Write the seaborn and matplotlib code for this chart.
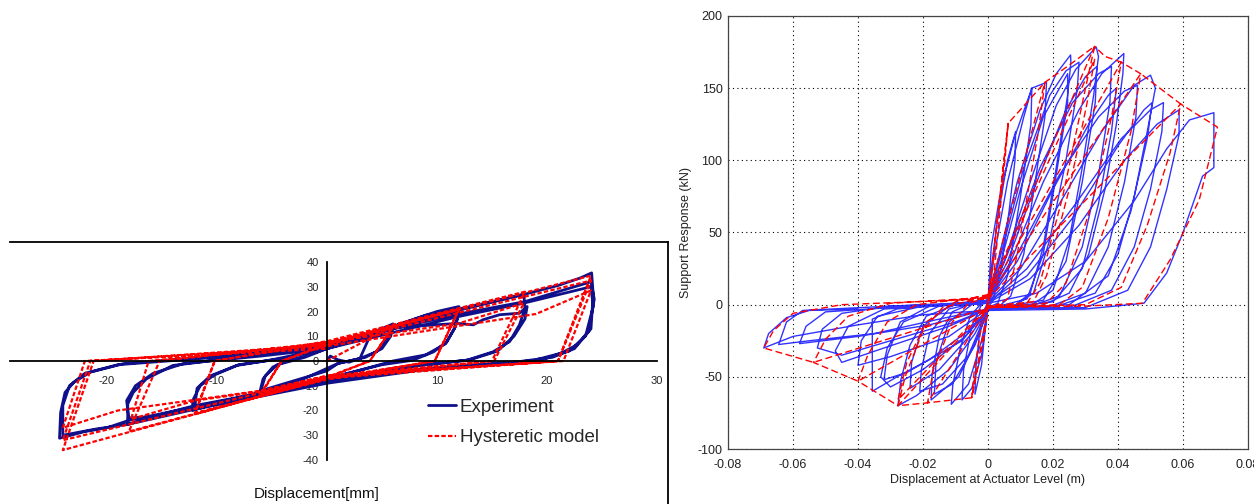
import numpy as np
import pandas as pd
import seaborn as sns
import matplotlib.pyplot as plt

# ---- left chart: force [kN] vs displacement [mm] (vertices)
left_exp = [
    (0, 0), (0.3, 2), (1, 0.5), (2, -0.5), (3, 1), (4, 11), (6, 15), (5.9, 12), (5.4, 8.4), (4.5, 3.7),
    (3, 1), (1, -1), (0, -3), (-2, -7), (-4, -10), (-6.1, -12.7), (-5.8, -7.2), (-4.9, -2.4), (-3.7, 0),
    (-2, 2), (0, 5), (3, 10), (6, 14.5), (5.8, 10), (5, 5), (3.5, 1.5), (1, -1), (0, -4), (-3, -8),
    (-6, -12), (-5.6, -6), (-4.5, -1.5), (-2, 1.5), (0, 5),
    (4, 10.5), (8, 17), (10, 20), (12, 22), (11.9, 18), (11.6, 13.2), (10.9, 7.8), (9.7, 3.7), (7.8, 0.3),
    (5, -1.5), (0, -7), (-6, -12.5), (-10, -17), (-12.2, -20), (-12.2, -16), (-11.5, -9.9), (-10.3, -5.8),
    (-8.2, -1.8), (-5, 0.5), (0, 5), (6, 13), (12, 20), (11.7, 14), (10.8, 7), (9, 2.5), (6, 0),
    (0, -7.5), (-6, -13), (-12, -18.5), (-11.8, -11), (-10.6, -6), (-8, -1.5), (-4, 1), (0, 5.5),
    (6, 14), (9, 18.5), (12, 21), (15, 24), (17.9, 27), (18, 21.3), (17.5, 14.6), (16.6, 7.8), (15.1, 3.7),
    (12.7, 0.3), (8, -2), (0, -8), (-6, -13), (-12, -18), (-15, -21.5), (-18.1, -25.6), (-18.1, -17.4),
    (-17.6, -12.7), (-16.4, -7.2), (-14, -1.8), (-8, 1.5), (0, 5.5),
    (6, 13.5), (11.9, 15.2), (13.3, 14.6), (14.2, 16.7), (15.7, 18.7), (17.5, 19.3), (18.2, 22), (18, 17),
    (17, 10), (15.5, 4), (13, 0.5), (6, -3), (0, -8.5), (-12, -19), (-16, -22.5), (-18, -23), (-18.2, -16),
    (-17.4, -10), (-15.8, -5), (-13, -1), (-6, 2), (0, 5),
    (6, 14), (12, 20.5), (18, 27), (21, 30.5), (23, 33.5), (24.06, 35.6), (24.2, 27), (24, 13), (22.7, 6.4),
    (21.2, 3), (19.4, 0.3), (15, -1), (8, -3.5), (0, -8.5), (-6, -13.5), (-12, -18.5), (-18, -24),
    (-20, -27), (-22, -28.5), (-24.3, -31.2), (-24.2, -20.8), (-23.8, -12.7), (-23, -8.6), (-21.5, -4.5),
    (-18.5, -1.1), (-10, 2), (0, 6),
    (6, 13), (12, 19), (18, 24), (21, 28), (24, 32), (24.3, 25), (23.8, 12), (22.5, 5), (20.5, 1.5),
    (17, -0.5), (8, -4), (0, -9), (-12, -19.5), (-18, -25.5), (-21, -27.5), (-24, -30), (-24, -18),
    (-23.4, -10), (-22, -5), (-19, -1.5), (-10, 1.5), (0, 5),
    (12, 18), (18, 23.5), (24, 30), (24.2, 22), (23.5, 10), (22, 4), (19, 0.5),
]

left_model = [
    (0, 0), (6, 14), (3.9, 0), (0, -6.5), (-6, -13.5), (-4.1, 0), (0, 6.5), (6, 13.8), (3.9, 0),
    (0, -6.8), (-6, -13), (-4.1, 0), (0, 7),
    (12, 21), (9.8, 0), (0, -7), (-12, -21.5), (-10.2, 0), (0, 7.5), (12, 20.8), (9.8, 0), (0, -7.5),
    (-12, -21), (-10.2, 0), (0, 8),
    (18, 28), (15, 0), (0, -7), (-18, -28.5), (-15.2, 0), (0, 7.5), (12, 15.2), (17.9, 23.4), (15.2, 0),
    (0, -6), (-6, -12.3), (-12, -16), (-17.8, -23.5), (-16.2, 0), (0, 7),
    (24, 34.5), (21, 0), (0, -7), (-24, -36), (-21.2, 0), (0, 6.5), (24, 32.5), (21, 0), (0, -6.5),
    (-24, -32), (-21.5, 0), (0, 6), (19, 19), (24, 28.5), (21.5, 0), (0, -6), (-6, -12), (-19, -20),
    (-24, -27), (-22, 0), (0, 5),
]

left_xticks = [-20, -10, 0, 10, 20, 30]
left_xlabels = ['-20', '-10', '0', '10', '20', '30']
left_yticks = [-40, -30, -20, -10, 0, 10, 20, 30, 40]
left_ylabels = ['-40', '-30', '-20', '-10', '0', '10', '20', '30', '40']

# ---- right chart: support response [kN] vs displacement at actuator level [m]
right_exp = [
    (0, 0), (0.001, 25), (0.003, 60), (0.006, 100), (0.0085, 120), (0.0083, 100), (0.0065, 65), (0.004, 25),
    (0.0015, 3), (0, -2), (-0.001, -20), (-0.002, -42), (-0.004, -62), (-0.0038, -45), (-0.0025, -18),
    (-0.001, -3), (0, 2),
    (0.001, 40), (0.004, 80), (0.008, 115), (0.0135, 150), (0.0132, 125), (0.010, 75), (0.006, 20),
    (0.003, 1), (0, -2), (-0.002, -35), (-0.005, -58), (-0.008, -66), (-0.0075, -45), (-0.005, -15),
    (-0.002, 0), (0, 3),
    (0.002, 35), (0.006, 85), (0.011, 130), (0.0135, 150), (0.018, 154), (0.0175, 130), (0.0145, 85),
    (0.011, 35), (0.007, 6), (0.003, -2), (0, -3), (-0.002, -25), (-0.006, -55), (-0.0113, -69),
    (-0.0108, -55), (-0.0085, -30), (-0.0055, -8), (-0.002, 1), (0, 3),
    (0.003, 30), (0.009, 85), (0.016, 135), (0.021, 160), (0.0254, 173), (0.0255, 168), (0.0245, 145),
    (0.021, 95), (0.017, 40), (0.013, 8), (0.008, -1), (0, -3), (-0.003, -22), (-0.009, -50),
    (-0.0175, -66), (-0.0172, -48), (-0.015, -22), (-0.011, -5), (-0.005, 1), (0, 3),
    (0.004, 30), (0.01, 80), (0.017, 130), (0.022, 150), (0.0245, 160), (0.0245, 140), (0.021, 90),
    (0.017, 35), (0.012, 4), (0, -3), (-0.004, -28), (-0.011, -55), (-0.0165, -62), (-0.016, -40),
    (-0.012, -12), (-0.005, 0), (0, 3),
    (0.004, 35), (0.011, 95), (0.019, 145), (0.024, 162), (0.028, 168), (0.0275, 150), (0.024, 100),
    (0.019, 45), (0.014, 8), (0.008, -1), (0, -3), (-0.006, -35), (-0.014, -55), (-0.021, -60),
    (-0.0205, -45), (-0.018, -20), (-0.012, -3), (0, 3),
    (0.005, 30), (0.013, 85), (0.021, 138), (0.027, 163), (0.0333, 178.5), (0.034, 172), (0.0325, 145),
    (0.029, 95), (0.025, 45), (0.02, 10), (0.013, -1), (0, -3), (-0.004, -20), (-0.012, -45),
    (-0.022, -63), (-0.0277, -70), (-0.0268, -52), (-0.024, -28), (-0.019, -8), (-0.01, 0), (0, 3),
    (0.006, 30), (0.015, 85), (0.024, 135), (0.030, 158), (0.0335, 165), (0.033, 140), (0.029, 85),
    (0.024, 30), (0.017, 3), (0, -3), (-0.005, -20), (-0.015, -45), (-0.024, -58), (-0.0235, -40),
    (-0.02, -15), (-0.012, -1), (0, 3),
    (0.006, 35), (0.016, 95), (0.026, 140), (0.034, 160), (0.038, 165), (0.0375, 140), (0.034, 90),
    (0.029, 40), (0.022, 6), (0.012, -2), (0, -3), (-0.008, -25), (-0.025, -47), (-0.032, -52),
    (-0.031, -35), (-0.027, -12), (-0.018, -1), (0, 3),
    (0.007, 30), (0.017, 85), (0.028, 135), (0.035, 160), (0.0418, 174), (0.0415, 160), (0.0395, 125),
    (0.036, 80), (0.031, 35), (0.025, 8), (0.015, -2), (0, -3), (-0.006, -18), (-0.018, -38),
    (-0.028, -50), (-0.0356, -60), (-0.0356, -10), (-0.028, -3), (-0.015, 0), (0, 3),
    (0.009, 30), (0.02, 80), (0.031, 125), (0.037, 145), (0.0395, 150), (0.038, 120), (0.034, 70),
    (0.029, 25), (0.02, 2), (0, -3), (-0.007, -22), (-0.02, -45), (-0.03, -57), (-0.033, -50),
    (-0.031, -30), (-0.026, -12), (-0.015, -1), (0, 3),
    (0.009, 35), (0.022, 90), (0.034, 130), (0.042, 148), (0.046, 152), (0.0455, 130), (0.042, 85),
    (0.037, 40), (0.030, 8), (0.018, -2), (0, -3), (-0.012, -22), (-0.03, -36), (-0.040, -42),
    (-0.039, -25), (-0.034, -8), (-0.02, -1), (0, 2),
    (0.01, 25), (0.022, 70), (0.035, 120), (0.045, 152), (0.050, 159), (0.0515, 150), (0.049, 120),
    (0.045, 75), (0.040, 35), (0.033, 8), (0.02, -2), (0, -3), (-0.01, -12), (-0.03, -25), (-0.045, -35),
    (-0.0525, -30), (-0.051, -17), (-0.045, -6), (-0.03, -1), (0, 2),
    (0.012, 20), (0.026, 60), (0.040, 110), (0.048, 135), (0.0505, 140), (0.049, 115), (0.044, 65),
    (0.037, 20), (0.025, 0), (0, -3), (-0.012, -15), (-0.032, -30), (-0.045, -40), (-0.047, -32),
    (-0.043, -15), (-0.032, -3), (0, 1),
    (0.012, 25), (0.027, 70), (0.041, 115), (0.050, 135), (0.054, 140), (0.0535, 120), (0.050, 80),
    (0.045, 40), (0.038, 10), (0.025, -2), (0, -3), (-0.018, -14), (-0.04, -22), (-0.058, -27),
    (-0.056, -15), (-0.05, -5), (-0.03, -2), (0, 1),
    (0.013, 18), (0.028, 55), (0.042, 100), (0.052, 125), (0.0588, 135), (0.0588, 118), (0.055, 80),
    (0.050, 40), (0.043, 10), (0.03, -2), (0, -3), (-0.015, -10), (-0.035, -20), (-0.055, -25),
    (-0.0644, -27.6), (-0.062, -12), (-0.057, -4), (-0.03, -1), (0, 1),
    (0.015, 8), (0.03, 30), (0.045, 72), (0.055, 108), (0.062, 128), (0.0695, 133), (0.0695, 95),
    (0.066, 89), (0.06, 50), (0.055, 22), (0.048, 1), (0.03, -3), (0, -4), (-0.02, -7), (-0.04, -14),
    (-0.06, -22), (-0.069, -30), (-0.0675, -20), (-0.062, -9), (-0.055, -4), (-0.04, -3),
]

right_model = [
    (0, 0), (0.001, 20), (0.0062, 125.6), (0.0052, 100), (0.002, 25), (0.0005, 5), (0, 0), (-0.001, -20),
    (-0.005, -64.5), (-0.0042, -45), (-0.0015, -8), (0, 2),
    (0.0062, 125.6), (0.0175, 154), (0.0155, 120), (0.009, 35), (0.006, 4), (0.002, -1), (0, -2),
    (-0.005, -64.5), (-0.0186, -68), (-0.0168, -45), (-0.011, -12), (-0.006, 1), (0, 5),
    (0.0175, 154), (0.025, 166), (0.0328, 179), (0.030, 150), (0.023, 75), (0.016, 15), (0.012, 1),
    (0.004, -1), (0, -2), (-0.0186, -68), (-0.0277, -70), (-0.0255, -50), (-0.02, -18), (-0.014, -2),
    (-0.005, 3), (0, 6),
    (0.0328, 170), (0.0305, 140), (0.025, 80), (0.018, 20), (0.014, 2), (0, -1), (-0.0277, -66),
    (-0.025, -40), (-0.019, -12), (-0.01, 2), (0, 7),
    (0.0328, 179), (0.036, 172), (0.041, 168), (0.038, 130), (0.032, 70), (0.024, 15), (0.018, 1),
    (0, -2), (-0.0277, -70), (-0.040, -53), (-0.037, -35), (-0.031, -12), (-0.022, 0), (0, 6),
    (0.041, 168), (0.047, 160), (0.044, 120), (0.037, 60), (0.029, 12), (0.022, 0), (0, -2),
    (-0.040, -53), (-0.0537, -40), (-0.050, -24), (-0.043, -8), (-0.03, 1), (0, 5),
    (0.047, 160), (0.0593, 139), (0.056, 105), (0.049, 55), (0.041, 12), (0.03, 0), (0, -2),
    (-0.0537, -40), (-0.069, -30), (-0.066, -18), (-0.06, -6), (-0.045, 0), (0, 4),
    (0.0593, 139), (0.0706, 123), (0.065, 72.6), (0.056, 31), (0.0475, 1), (0.03, -1), (0, -2),
]

right_xticks = [-0.08, -0.06, -0.04, -0.02, 0, 0.02, 0.04, 0.06, 0.08]
right_xlabels = ['-0.08', '-0.06', '-0.04', '-0.02', '0', '0.02', '0.04', '0.06', '0.08']
right_yticks = [-100, -50, 0, 50, 100, 150, 200]
right_ylabels = ['-100', '-50', '0', '50', '100', '150', '200']

sns.set_theme(style='white')
plt.rcParams['font.family'] = ['Liberation Sans', 'DejaVu Sans']

W, H = 1254, 504
fig = plt.figure(figsize=(W / 100, H / 100), dpi=100)

# frame of the left chart area: only its top and right edges are in view
box = fig.add_axes([10 / W, 0, 658 / W, 262 / H])
box.set_xticks([])
box.set_yticks([])
box.patch.set_alpha(0)
for s in ['left', 'bottom']:
    box.spines[s].set_visible(False)
for s in ['top', 'right']:
    box.spines[s].set_color('black')
    box.spines[s].set_linewidth(1.3)

# left chart
ax1 = fig.add_axes([10 / W, 44 / H, 647 / W, 198 / H])
ax1.patch.set_alpha(0)
df_le = pd.DataFrame(left_exp, columns=['x', 'y'])
df_lm = pd.DataFrame(left_model, columns=['x', 'y'])
sns.lineplot(data=df_le, x='x', y='y', sort=False, estimator=None, ax=ax1,
             color='#10108a', linewidth=2.0, label='Experiment')
sns.lineplot(data=df_lm, x='x', y='y', sort=False, estimator=None, ax=ax1,
             color='#ff0000', linewidth=1.6, linestyle=(0, (2, 1)), label='Hysteretic model')
ax1.set_xlim(-28.8, 30)
ax1.set_ylim(-40, 40)
ax1.spines['left'].set_position(('data', 0))
ax1.spines['bottom'].set_position(('data', 0))
ax1.spines['top'].set_visible(False)
ax1.spines['right'].set_visible(False)
for s in ['left', 'bottom']:
    ax1.spines[s].set_color('black')
    ax1.spines[s].set_linewidth(1.3)
ax1.set_xticks(left_xticks)
ax1.set_xticklabels(left_xlabels)
ax1.set_yticks(left_yticks)
ax1.set_yticklabels(left_ylabels)
ax1.tick_params(axis='both', direction='out', length=4, width=1, color='black',
                labelsize=8, labelcolor='#222222')
ax1.tick_params(axis='x', pad=7)
ax1.tick_params(axis='y', pad=2)
ax1.set_xlabel('')
ax1.set_ylabel('')
ax1.legend(loc='upper left', bbox_to_anchor=(428 / W, 0.2091), bbox_transform=fig.transFigure,
           frameon=False, fontsize=13.5, borderpad=0, borderaxespad=0, handlelength=1.5,
           handletextpad=0.2, labelspacing=0.71)
fig.text(317 / W, 10 / H, 'Displacement[mm]', ha='center', va='center', fontsize=11, color='#111111')

# right chart
ax2 = fig.add_axes([728 / W, 55 / H, 520 / W, 433 / H])
df_re = pd.DataFrame(right_exp, columns=['x', 'y'])
df_rm = pd.DataFrame(right_model, columns=['x', 'y'])
sns.lineplot(data=df_re, x='x', y='y', sort=False, estimator=None, ax=ax2,
             color='#0000ff', linewidth=1.0, alpha=0.8)
sns.lineplot(data=df_rm, x='x', y='y', sort=False, estimator=None, ax=ax2,
             color='#ff0000', linewidth=1.0, linestyle=(0, (5, 2.5)))
ax2.set_xlim(-0.08, 0.08)
ax2.set_ylim(-100, 200)
ax2.set_xticks(right_xticks)
ax2.set_xticklabels(right_xlabels)
ax2.set_yticks(right_yticks)
ax2.set_yticklabels(right_ylabels)
ax2.grid(True, color='black', linestyle=(0, (1, 3)), linewidth=0.8)
for s in ax2.spines.values():
    s.set_color('#444444')
    s.set_linewidth(0.9)
ax2.tick_params(axis='both', direction='in', length=3, labelsize=9, labelcolor='#222222')
ax2.tick_params(axis='x', pad=7)
ax2.tick_params(axis='y', pad=4)
ax2.set_xlabel('Displacement at Actuator Level (m)', fontsize=9, color='#222222')
ax2.set_ylabel('Support Response (kN)', fontsize=9, color='#222222')
ax2.xaxis.set_label_coords(0.5, -0.058)
ax2.yaxis.set_label_coords(-0.069, 0.5)

fig.savefig('out.png', dpi=100)
